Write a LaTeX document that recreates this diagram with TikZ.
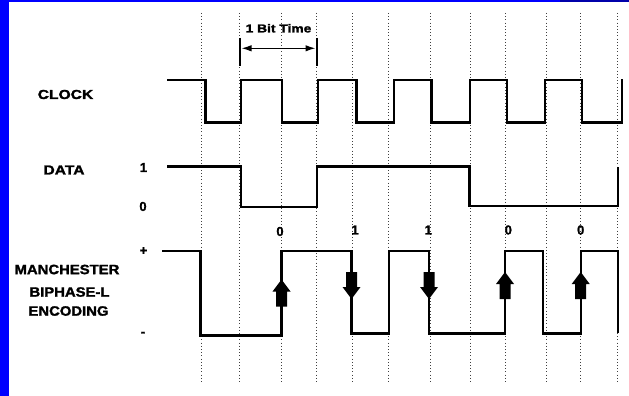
\documentclass[tikz,border=0pt]{standalone}
\usepackage{fontspec}
\setmainfont{Liberation Sans}[BoldFeatures={FakeBold=1.6}]
\usepackage{graphicx}
\usetikzlibrary{arrows.meta}
\definecolor{bgblue}{RGB}{0,0,255}
\definecolor{navyband}{RGB}{0,0,170}
\begin{document}
\begin{tikzpicture}[x=1pt,y=-1pt,
  wave/.style={line width=2.3pt, line join=miter, line cap=butt},
  gridline/.style={line width=0.9pt, black!75, dash pattern=on 1pt off 2.2pt},
  lab/.style={font=\fontsize{13}{15}\selectfont\bfseries, inner sep=0pt},
  mlab/.style={font=\fontsize{13.5}{15}\selectfont\bfseries, inner sep=0pt},
  blab/.style={font=\fontsize{11.5}{13}\selectfont\bfseries, inner sep=0pt},
  dig/.style={font=\fontsize{13}{14}\selectfont\bfseries, inner sep=0pt},
  fatup/.pic={\fill (0,-13) -- (9,-1) -- (5.5,-1) -- (5.5,14) -- (-5.5,14) -- (-5.5,-1) -- (-9,-1) -- cycle;}
]
\useasboundingbox (0,0) rectangle (629,396);
\fill[white] (0,0) rectangle (629,396);
% border bands
\fill[bgblue] (0,0) rectangle (9,396);
\fill[bgblue] (0,0) rectangle (560,2);
\fill[navyband] (560,0) rectangle (629,2);
% dotted timing grid
\foreach \x in {201,239.5,281,316.5,352.5,388.7,430,470.7,505.7,546.7,580,617.3}
  \draw[gridline] (\x,13) -- (\x,382);
% clock
\draw[wave] (167,80) -- (205.5,80) -- (205.5,122.5) -- (241,122.5) -- (241,80) -- (282,80) -- (282,122.5) -- (318,122.5) -- (318,80) -- (356.5,80) -- (356.5,122.5) -- (394,122.5) -- (394,80) -- (431.5,80) -- (431.5,122.5) -- (470,122.5) -- (470,80) -- (507,80) -- (507,122.5) -- (545,122.5) -- (545,80) -- (582,80) -- (582,122.5) -- (622,122.5) -- (622,79);
% data
\draw[wave] (167,166.5) -- (241,166.5) -- (241,207) -- (317,207) -- (317,166.5) -- (469.5,166.5) -- (469.5,206) -- (618,206) -- (618,166.5);
% manchester
\draw[wave] (162,250.7) -- (200.5,250.7) -- (200.5,335.5) -- (281.5,335.5) -- (281.5,250.7) -- (351.5,250.7) -- (351.5,333.5) -- (389.3,333.5) -- (389.3,250.7) -- (429,250.7) -- (429,333.5) -- (505,333.5) -- (505,250.7) -- (542.7,250.7) -- (542.7,333.5) -- (580.7,333.5) -- (580.7,250.7) -- (618.3,250.7) -- (618.3,333);
% transition arrows
\pic at (281.5,292.5) {fatup};
\pic[rotate=180] at (351.5,286) {fatup};
\pic[rotate=180] at (429,286) {fatup};
\pic at (505,285) {fatup};
\pic at (580.7,285) {fatup};
% bit time marker
\coordinate (tlt) at (240,38); \coordinate (tlb) at (240,66);
\coordinate (trt) at (317,38); \coordinate (trb) at (317,66);
\coordinate (bl) at (241.5,48.3); \coordinate (br) at (315.5,48.3);
\draw[line width=2pt] (tlt) -- (tlb);
\draw[line width=2pt] (trt) -- (trb);
\draw[line width=1.3pt, {Latex[length=10pt,width=6.5pt]}-{Latex[length=10pt,width=6.5pt]}] (bl) -- (br);
\node[blab] (bittime) at (278.5,28.3) {\scalebox{1.2}[1]{1 Bit Time}};
% labels
\node[lab] (clk) at (65.5,94.5) {\scalebox{1.2}[1]{CLOCK}};
\node[lab] (dat) at (64,170) {\scalebox{1.2}[1]{DATA}};
\node[dig] (one) at (143.5,167.5) {1};
\node[dig] (zero) at (143,206.5) {0};
\node[dig] (plus) at (143.5,251) {+};
\node[dig] (minus) at (143,334) {-};
\node[mlab] (man1) at (67,269.5) {\scalebox{1.1}[1]{MANCHESTER}};
\node[mlab] (man2) at (69.5,292) {\scalebox{1.1}[1]{BIPHASE-L}};
\node[mlab] (man3) at (68.5,311) {\scalebox{1.1}[1]{ENCODING}};
\node[dig] (b1) at (280,231.5) {0};
\node[dig] (b2) at (355,230) {1};
\node[dig] (b3) at (428.3,230) {1};
\node[dig] (b4) at (508.3,230) {0};
\node[dig] (b5) at (580.7,230) {0};
\end{tikzpicture}
\end{document}
